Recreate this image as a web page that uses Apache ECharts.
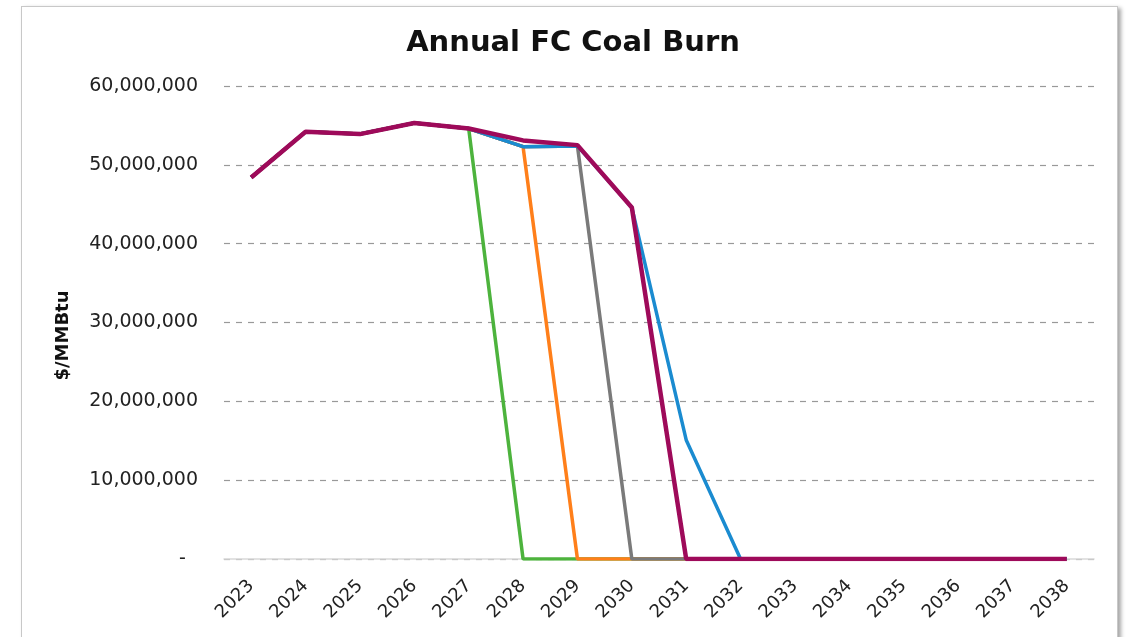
<!DOCTYPE html>
<html>
<head>
<meta charset="utf-8">
<script src="https://cdn.jsdelivr.net/npm/echarts@6/dist/echarts.min.js"></script>
<style>
  html, body { margin: 0; padding: 0; background: #fff; }
  #frame {
    position: absolute; left: 21px; top: 6px; width: 1095px; height: 640px;
    border: 1px solid #c8c8c8; box-shadow: 3px 2px 4px rgba(0,0,0,0.35); background: #fff;
  }
  #chart { position: absolute; left: 0; top: 0; width: 1133px; height: 637px; }
</style>
</head>
<body>
<div id="frame"></div>
<div id="chart"></div>
<script>
// 年份
var years = ['2023', '2024', '2025', '2026', '2027', '2028', '2029', '2030',
  '2031', '2032', '2033', '2034', '2035', '2036', '2037', '2038'];

// 各情景年燃煤量
var retire2028 = [48400000, 54200000, 53900000, 55300000, 54600000, 0, 0, 0, 0, 0, 0, 0, 0, 0, 0, 0];
var retire2029 = [48400000, 54200000, 53900000, 55300000, 54600000, 52300000, 0, 0, 0, 0, 0, 0, 0, 0, 0, 0];
var retire2030 = [48400000, 54200000, 53900000, 55300000, 54600000, 52300000, 52400000, 0, 0, 0, 0, 0, 0, 0, 0, 0];
var retire2032 = [48400000, 54200000, 53900000, 55300000, 54600000, 52300000, 52400000, 44600000, 15100000, 0, 0, 0, 0, 0, 0, 0];
var retire2031 = [48400000, 54200000, 53900000, 55300000, 54600000, 53100000, 52500000, 44600000, 0, 0, 0, 0, 0, 0, 0, 0];

var chart = echarts.init(document.getElementById('chart'));
var font = 'DejaVu Sans, Verdana, sans-serif';

function line(data, color, width) {
  return {
    type: 'line',
    data: data,
    symbol: 'none',
    animation: false,
    lineStyle: { color: color, width: width },
    itemStyle: { color: color }
  };
}

chart.setOption({
  animation: false,
  title: {
    text: 'Annual FC Coal Burn',
    left: 568,
    textAlign: 'center',
    top: 24,
    textStyle: { fontFamily: font, fontSize: 29, fontWeight: 'bold', color: '#111' }
  },
  grid: { left: 224, right: 39, top: 86, bottom: 78 },
  xAxis: {
    type: 'category',
    data: years,
    boundaryGap: true,
    axisLine: { show: true, lineStyle: { color: '#d9d9d9', width: 1.5 } },
    axisTick: { show: false },
    axisLabel: {
      rotate: 45,
      margin: 24,
      interval: 0,
      fontFamily: font,
      fontSize: 18,
      color: '#222'
    }
  },
  yAxis: {
    type: 'value',
    min: 0,
    max: 60000000,
    interval: 10000000,
    name: '$/MMBtu',
    nameLocation: 'middle',
    nameGap: 152,
    nameTextStyle: {
      fontFamily: font, fontSize: 18, fontWeight: 'bold', color: '#111',
      padding: [0, 26, 0, 0]
    },
    axisLine: { show: false },
    axisTick: { show: false },
    splitLine: { lineStyle: { color: '#999', type: [6, 6], width: 1.2 } },
    axisLabel: {
      margin: 26,
      fontFamily: font,
      fontSize: 19,
      color: '#222',
      formatter: function (v) {
        return v === 0 ? '-  ' : v.toLocaleString('en-US');
      }
    }
  },
  series: [
    line(retire2028, '#4db33d', 3.5),
    line(retire2029, '#ff7f1a', 3.5),
    line(retire2030, '#7a7a7a', 3.5),
    line(retire2032, '#1a8bd0', 3.5),
    line(retire2031, '#9e0a5a', 4.5)
  ]
});
</script>
</body>
</html>
